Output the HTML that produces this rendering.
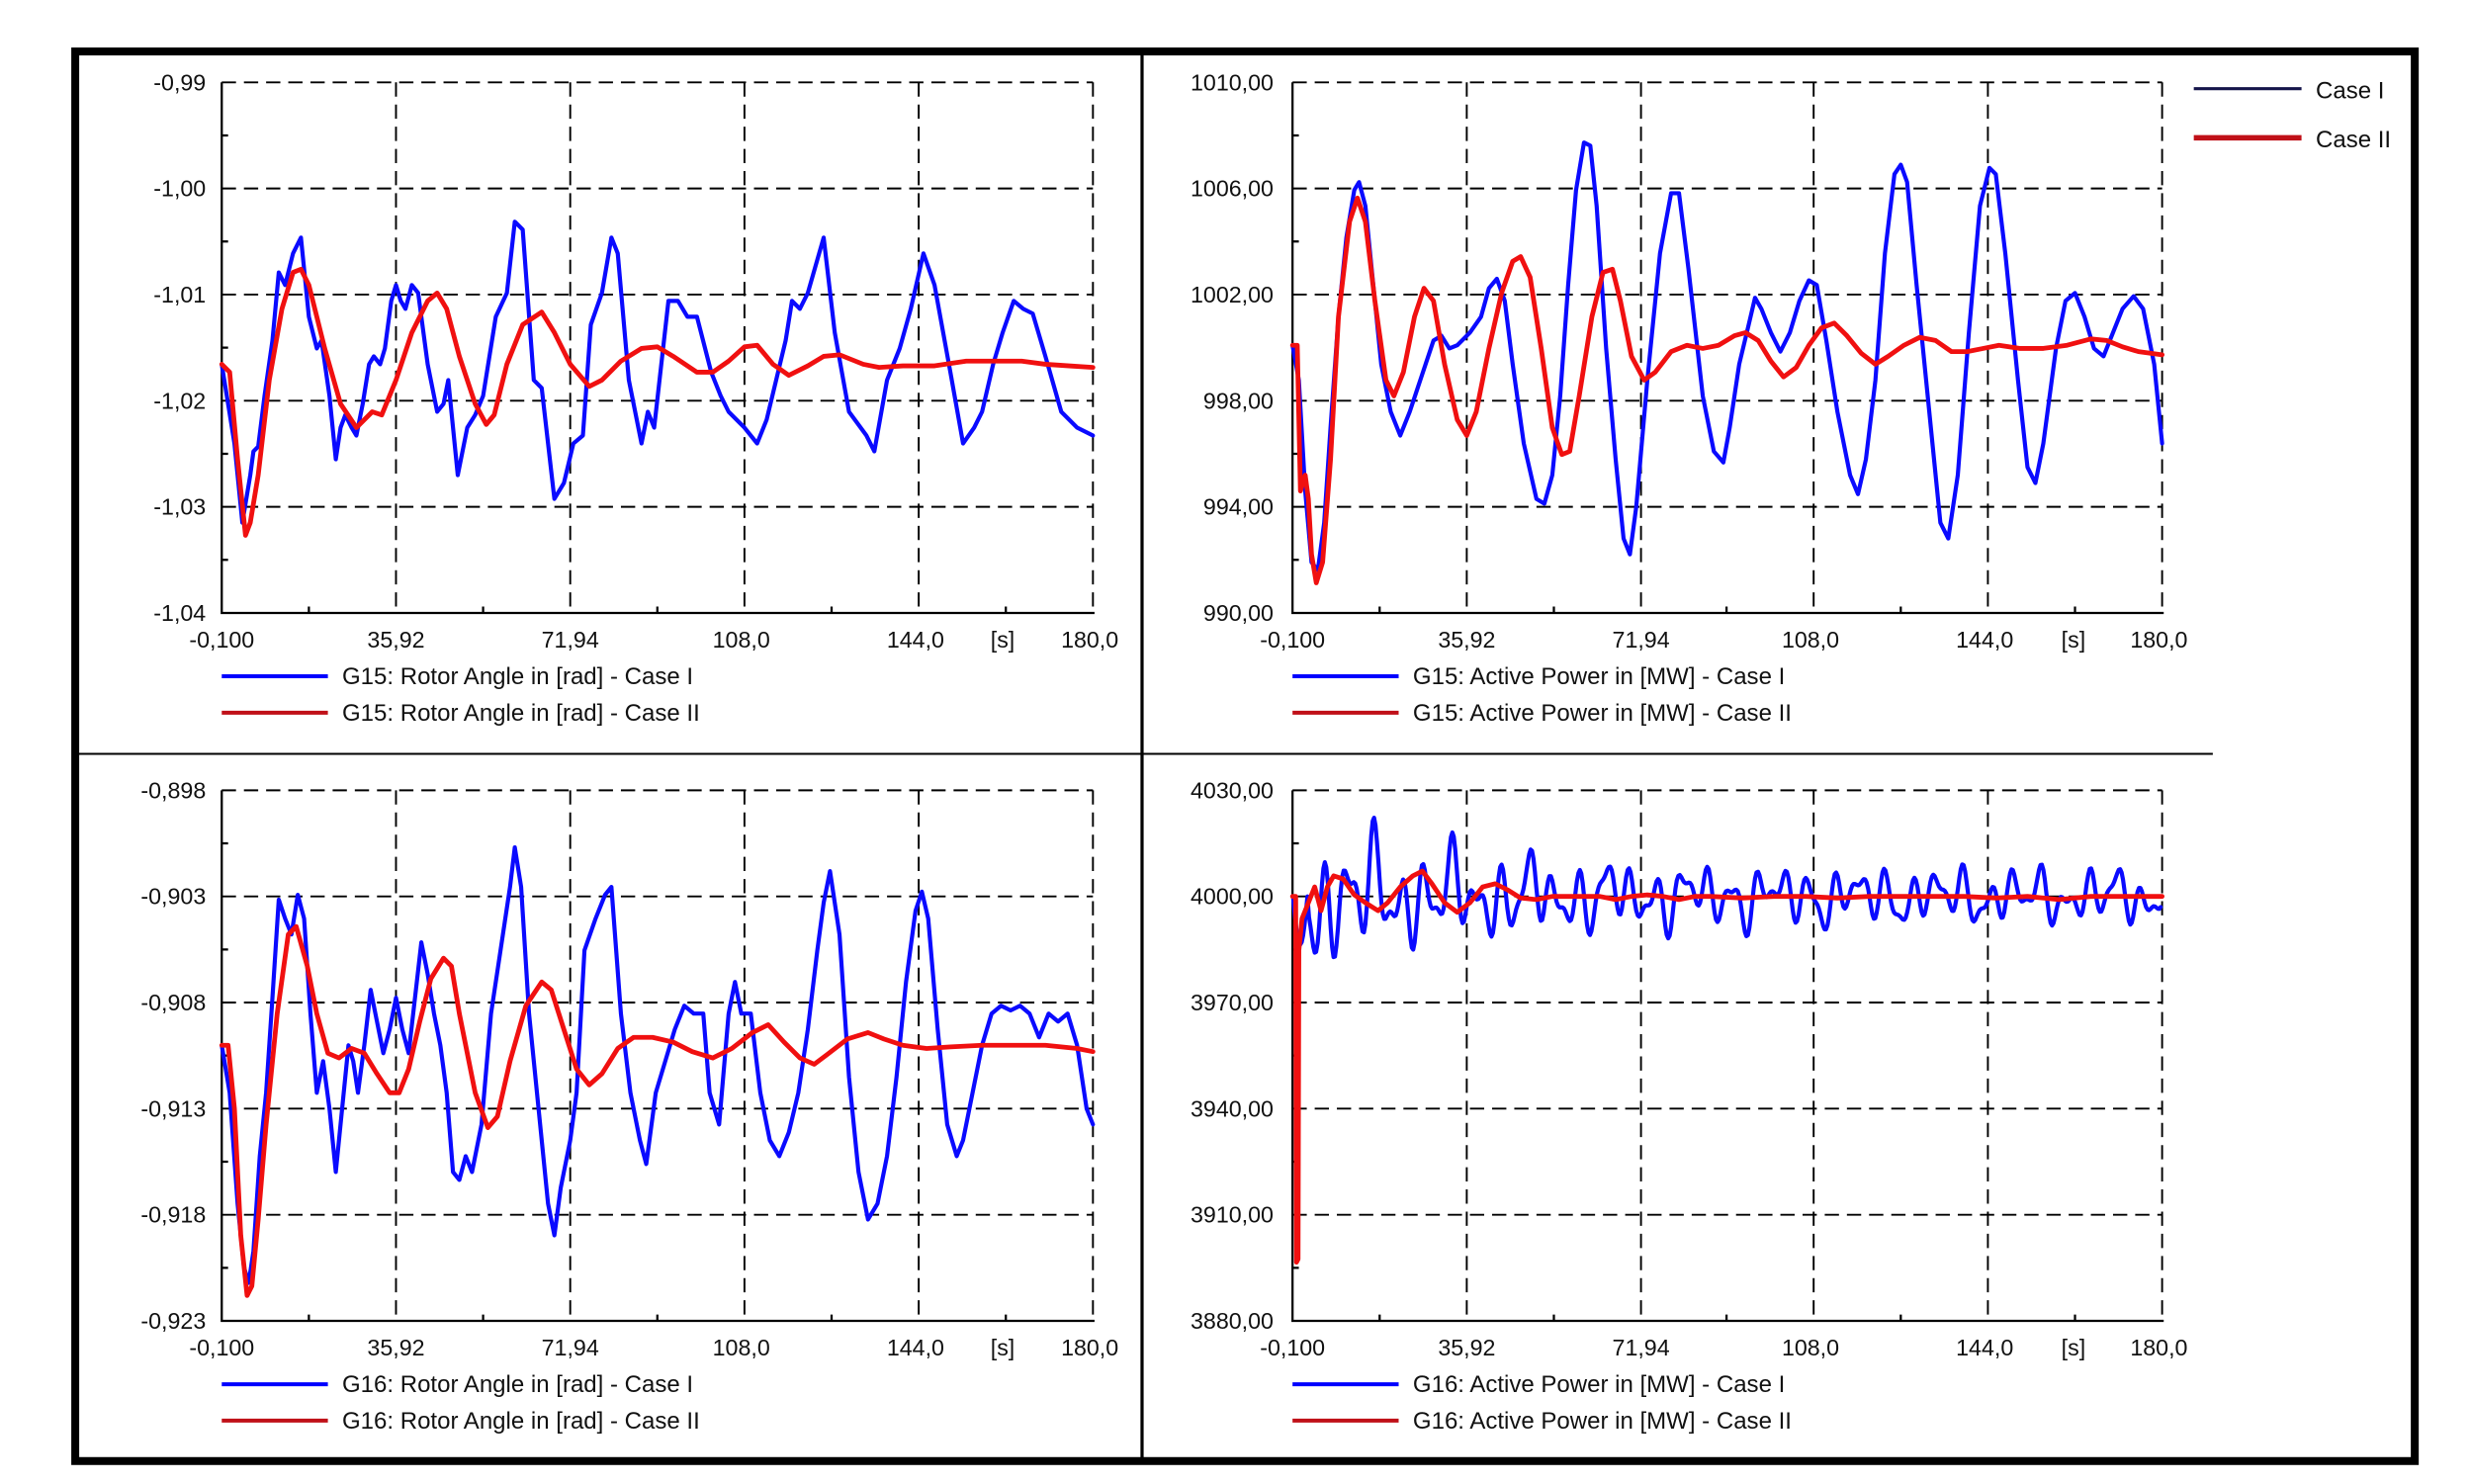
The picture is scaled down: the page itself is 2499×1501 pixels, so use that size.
<!DOCTYPE html>
<html><head><meta charset="utf-8"><style>
html,body{margin:0;padding:0;background:#fff;}
svg{display:block;}
text{font-family:"Liberation Sans",Arial,sans-serif;fill:#111;}
</style></head><body>
<svg width="2499" height="1501" viewBox="0 0 1560 937" preserveAspectRatio="none" xmlns="http://www.w3.org/2000/svg">
<rect x="0" y="0" width="1560" height="937" fill="#fff"/>
<rect x="47.5" y="32.5" width="1477" height="890" fill="none" stroke="#000" stroke-width="5"/>
<line x1="721" y1="32" x2="721" y2="922" stroke="#000" stroke-width="2"/>
<line x1="48" y1="476" x2="1397" y2="476" stroke="#000" stroke-width="1.2"/>

<g id="frames" fill="none" stroke="#000">
 <!-- TL -->
 <g stroke-dasharray="9,5" stroke-width="1.2">
  <path d="M140 52H690M140 119H690M140 186H690M140 253H690M140 320H690M690 52V387M250 52V387M360 52V387M470 52V387M580 52V387"/>
  <path d="M816 52H1365M816 119H1365M816 186H1365M816 253H1365M816 320H1365M1365 52V387M926 52V387M1036 52V387M1145 52V387M1255 52V387"/>
  <path d="M140 499H690M140 566H690M140 633H690M140 700H690M140 767H690M690 499V834M250 499V834M360 499V834M470 499V834M580 499V834"/>
  <path d="M816 499H1365M816 566H1365M816 633H1365M816 700H1365M816 767H1365M1365 499V834M926 499V834M1036 499V834M1145 499V834M1255 499V834"/>
 </g>
 <g stroke-width="1.4">
  <path d="M140 52V387H691M140 85.5h4M140 152.5h4M140 219.5h4M140 286.5h4M140 353.5h4M195 387v-4M305 387v-4M415 387v-4M525 387v-4M635 387v-4"/>
  <path d="M816 52V387H1366M816 85.5h4M816 152.5h4M816 219.5h4M816 286.5h4M816 353.5h4M871 387v-4M981 387v-4M1090 387v-4M1200 387v-4M1310 387v-4"/>
  <path d="M140 499V834H691M140 532.5h4M140 599.5h4M140 666.5h4M140 733.5h4M140 800.5h4M195 834v-4M305 834v-4M415 834v-4M525 834v-4M635 834v-4"/>
  <path d="M816 499V834H1366M816 532.5h4M816 599.5h4M816 666.5h4M816 733.5h4M816 800.5h4M871 834v-4M981 834v-4M1090 834v-4M1200 834v-4M1310 834v-4"/>
 </g>
</g>

<g font-size="14.5" text-anchor="end">
 <text x="130" y="57">-0,99</text><text x="130" y="124">-1,00</text><text x="130" y="191">-1,01</text><text x="130" y="258">-1,02</text><text x="130" y="325">-1,03</text><text x="130" y="392">-1,04</text>
 <text x="804" y="57">1010,00</text><text x="804" y="124">1006,00</text><text x="804" y="191">1002,00</text><text x="804" y="258">998,00</text><text x="804" y="325">994,00</text><text x="804" y="392">990,00</text>
 <text x="130" y="504">-0,898</text><text x="130" y="571">-0,903</text><text x="130" y="638">-0,908</text><text x="130" y="705">-0,913</text><text x="130" y="772">-0,918</text><text x="130" y="839">-0,923</text>
 <text x="804" y="504">4030,00</text><text x="804" y="571">4000,00</text><text x="804" y="638">3970,00</text><text x="804" y="705">3940,00</text><text x="804" y="772">3910,00</text><text x="804" y="839">3880,00</text>
</g>
<g font-size="14.5" text-anchor="middle">
 <text x="140" y="409">-0,100</text><text x="250" y="409">35,92</text><text x="360" y="409">71,94</text><text x="468" y="409">108,0</text><text x="578" y="409">144,0</text><text x="633" y="409">[s]</text><text x="688" y="409">180,0</text>
 <text x="816" y="409">-0,100</text><text x="926" y="409">35,92</text><text x="1036" y="409">71,94</text><text x="1143" y="409">108,0</text><text x="1253" y="409">144,0</text><text x="1309" y="409">[s]</text><text x="1363" y="409">180,0</text>
 <text x="140" y="856">-0,100</text><text x="250" y="856">35,92</text><text x="360" y="856">71,94</text><text x="468" y="856">108,0</text><text x="578" y="856">144,0</text><text x="633" y="856">[s]</text><text x="688" y="856">180,0</text>
 <text x="816" y="856">-0,100</text><text x="926" y="856">35,92</text><text x="1036" y="856">71,94</text><text x="1143" y="856">108,0</text><text x="1253" y="856">144,0</text><text x="1309" y="856">[s]</text><text x="1363" y="856">180,0</text>
</g>

<!-- legends -->
<g stroke-width="2.5">
 <line x1="140" y1="427" x2="207" y2="427" stroke="#0000ff"/><line x1="140" y1="450" x2="207" y2="450" stroke="#c01018"/>
 <line x1="816" y1="427" x2="883" y2="427" stroke="#0000ff"/><line x1="816" y1="450" x2="883" y2="450" stroke="#c01018"/>
 <line x1="140" y1="874" x2="207" y2="874" stroke="#0000ff"/><line x1="140" y1="897" x2="207" y2="897" stroke="#c01018"/>
 <line x1="816" y1="874" x2="883" y2="874" stroke="#0000ff"/><line x1="816" y1="897" x2="883" y2="897" stroke="#c01018"/>
 <line x1="1385" y1="56" x2="1453" y2="56" stroke="#14144a" stroke-width="2"/><line x1="1385" y1="87" x2="1453" y2="87" stroke="#c01018" stroke-width="3.5"/>
</g>
<g font-size="15">
 <text x="216" y="432">G15: Rotor Angle in [rad] - Case I</text><text x="216" y="455">G15: Rotor Angle in [rad] - Case II</text>
 <text x="892" y="432">G15: Active Power in [MW] - Case I</text><text x="892" y="455">G15: Active Power in [MW] - Case II</text>
 <text x="216" y="879">G16: Rotor Angle in [rad] - Case I</text><text x="216" y="902">G16: Rotor Angle in [rad] - Case II</text>
 <text x="892" y="879">G16: Active Power in [MW] - Case I</text><text x="892" y="902">G16: Active Power in [MW] - Case II</text>
 <text x="1462" y="62">Case I</text><text x="1462" y="93">Case II</text>
</g>

<g fill="none" stroke-width="2.6" stroke-linejoin="round" stroke-linecap="round">
<polyline stroke="#0a0aff" points="140,230 148,280 153,330 158,300 160,285 163,282 167,250 172,215 176,172 180,180 185,160 190,150 195,200 200,220 203,215 208,250 212,290 215,270 218,262 222,270 225,275 229,255 233,230 236,225 240,230 243,220 247,190 250,180 253,190 256,195 260,180 264,185 270,230 276,260 280,255 283,240 289,300 295,270 300,262 305,250 313,200 320,185 325,140 330,145 337,240 342,245 350,315 356,305 362,280 368,275 373,205 380,185 386,150 390,160 397,240 405,280 409,260 413,270 422,190 428,190 434,200 440,200 449,235 455,250 460,260 470,270 478,280 484,265 490,240 496,215 500,190 505,195 510,185 520,150 527,210 536,260 547,275 552,285 560,240 568,220 575,195 583,160 590,180 600,235 608,280 615,270 620,260 627,230 633,210 640,190 646,195 652,198 660,225 670,260 675,265 680,270 690,275"/>
<polyline stroke="#f01010" stroke-width="3" points="140,230 145,235 150,290 155,338 158,330 163,300 170,240 178,195 185,172 190,170 195,180 205,220 215,255 225,270 235,260 241,262 250,240 260,210 270,190 276,185 282,195 290,225 300,255 307,268 312,262 320,230 330,205 342,197 350,210 360,230 372,244 380,240 392,228 405,220 415,219 425,225 440,235 450,235 460,228 470,219 478,218 488,230 498,237 510,231 520,225 530,224 545,230 555,232 570,231 590,231 610,228 630,228 645,228 660,230 675,231 690,232"/>

<polyline stroke="#0a0aff" points="816,218 820,240 824,310 828,355 832,360 836,330 840,270 845,200 850,150 855,120 858,115 862,130 866,170 872,230 878,260 884,275 890,260 895,245 900,230 905,215 910,212 915,220 920,218 928,210 935,200 940,182 945,176 950,190 955,230 962,280 970,315 975,318 980,300 985,250 990,180 995,120 1000,90 1004,92 1008,130 1014,220 1020,290 1025,340 1029,350 1033,320 1040,240 1048,160 1055,122 1060,122 1066,170 1075,250 1082,285 1088,292 1092,270 1098,230 1104,205 1108,188 1112,195 1118,210 1124,222 1130,210 1136,190 1142,177 1147,180 1153,215 1160,260 1168,300 1173,312 1178,290 1184,240 1190,160 1196,110 1200,104 1204,115 1210,180 1218,260 1225,330 1230,340 1236,300 1243,210 1250,130 1256,106 1260,110 1266,160 1274,240 1280,295 1285,305 1290,280 1298,220 1304,190 1310,185 1316,200 1322,220 1328,225 1334,210 1340,195 1347,187 1353,195 1360,230 1365,280"/>
<polyline stroke="#f01010" stroke-width="3" points="816,218 819,218 821,310 824,300 826,315 828,350 831,368 835,355 840,290 845,200 852,140 857,125 862,140 868,190 875,240 880,250 886,235 893,200 899,182 905,190 912,230 920,265 926,275 932,260 940,220 948,185 955,165 960,162 966,175 973,220 980,270 986,287 991,285 997,250 1005,200 1012,172 1018,170 1023,190 1030,225 1038,240 1045,235 1055,222 1065,218 1075,220 1085,218 1095,212 1102,210 1110,215 1118,228 1126,238 1134,232 1142,218 1150,207 1158,204 1166,212 1175,223 1184,230 1192,225 1202,218 1212,213 1222,215 1232,222 1242,222 1252,220 1262,218 1275,220 1290,220 1305,218 1320,214 1330,215 1340,219 1350,222 1365,224"/>

<polyline stroke="#0a0aff" points="140,660 145,690 150,760 154,800 157,810 160,790 164,730 168,690 172,630 176,568 180,580 184,590 188,565 192,580 196,640 200,690 204,670 208,700 212,740 216,700 220,660 223,670 226,690 230,660 234,625 238,645 242,665 246,650 250,630 254,650 258,665 262,630 266,595 270,615 274,640 278,660 282,690 286,740 290,745 294,730 298,740 304,710 310,640 316,600 322,560 325,535 329,560 334,640 340,700 346,760 350,780 354,750 360,720 364,690 369,600 376,580 382,565 386,560 392,640 398,690 404,720 408,735 414,690 420,670 426,650 432,635 438,640 444,640 448,690 454,710 460,640 464,620 468,640 474,640 480,690 486,720 492,730 498,715 504,690 510,650 516,600 520,570 524,550 530,590 536,680 542,740 548,770 554,760 560,730 566,680 572,620 578,575 582,563 586,580 592,650 598,710 604,730 608,720 614,690 620,660 626,640 632,635 638,638 644,635 650,640 656,655 662,640 668,645 674,640 680,660 686,700 690,710"/>
<polyline stroke="#f01010" stroke-width="3" points="140,660 144,660 148,700 152,780 156,818 159,812 163,770 168,710 175,640 182,590 187,585 194,610 200,640 207,665 214,668 222,662 230,665 238,678 246,690 252,690 258,675 265,645 272,618 280,605 285,610 290,640 300,690 308,712 314,705 322,670 332,635 342,620 348,625 356,650 364,675 372,685 380,678 390,662 400,655 412,655 425,658 437,664 450,668 462,662 475,652 485,647 495,658 505,668 514,672 522,666 535,656 548,652 558,656 570,660 585,662 600,661 620,660 640,660 660,660 680,662 690,664"/>

<polyline id="brblue" stroke="#0a0aff" points="816,566 1365,566"/>
<polyline stroke="#f01010" stroke-width="3" points="816,566 818,566 818.5,797 819.5,795 820,600 822,580 826,570 830,560 834,575 838,560 842,553 848,555 855,565 862,570 870,575 876,570 884,560 892,553 898,550 904,558 912,570 920,576 928,570 936,560 944,558 952,562 960,567 970,568 980,566 990,566 1000,566 1010,566 1020,568 1030,566 1040,565 1050,566 1060,568 1070,566 1080,566 1100,567 1120,566 1140,566 1160,567 1180,566 1200,566 1220,566 1240,566 1260,567 1280,566 1300,568 1320,566 1340,566 1365,566"/>
</g>
</svg>
<script>
(function(){
 var pts=[];
 for(var t=0;t<=180;t+=0.3){
  var x=816+549*(t+0.1)/180.1;
  var A=9+16*Math.exp(-t/35);
  var v=A*(0.6*Math.sin(2*Math.PI*t/5.3+0.4)+0.35*Math.sin(2*Math.PI*t/3.3+1.3)+0.3*Math.sin(2*Math.PI*t/17+2.1)+0.2*Math.sin(2*Math.PI*t/8.1+0.7));
  if(t<3){v=-16*Math.sin(Math.PI*t/3);}
  pts.push(x.toFixed(1)+","+(566-v*2.233*0.85).toFixed(1));
 }
 document.getElementById("brblue").setAttribute("points",pts.join(" "));
})();
</script>
</body></html>
